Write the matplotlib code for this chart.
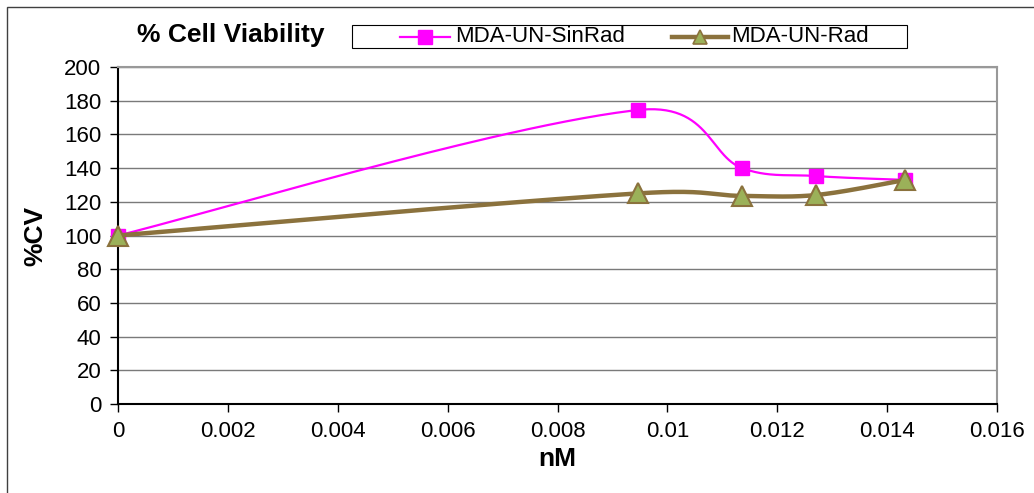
import numpy as np
import matplotlib
matplotlib.use("Agg")
import matplotlib.pyplot as plt
from matplotlib.patches import Rectangle
from matplotlib.lines import Line2D

plt.rcParams['font.family'] = ['Liberation Sans', 'DejaVu Sans']

x_sinrad = [0.0, 0.00947, 0.01136, 0.0127, 0.01433]
y_sinrad = [100, 174.5, 140, 135.3, 133]
x_rad = [0.0, 0.00947, 0.01136, 0.0127, 0.01433]
y_rad = [100, 125, 123.5, 124, 133]
label_sinrad = "MDA-UN-SinRad"
label_rad = "MDA-UN-Rad"
title = "% Cell Viability"
xlabel = "nM"
ylabel = "%CV"
xticks = [0, 0.002, 0.004, 0.006, 0.008, 0.01, 0.012, 0.014, 0.016]
xticklabels = ["0", "0.002", "0.004", "0.006", "0.008", "0.01", "0.012", "0.014", "0.016"]
yticks = list(range(0, 201, 20))

W, H = 1034, 493
AX_L, AX_R, AX_T, AX_B = 118, 997, 67, 404
XMAX, YMAX = 0.016, 200
sxs = (AX_R - AX_L) / XMAX
sys_ = (AX_B - AX_T) / YMAX


def smooth(xs, ys, n=60, blend=0.5):
    # Bezier smoothing in screen space; blend of uniform Catmull-Rom and length-weighted tangents
    P = np.column_stack([np.asarray(xs) * sxs, np.asarray(ys) * sys_]).astype(float)
    m = len(P)
    d = np.linalg.norm(np.diff(P, axis=0), axis=1)
    out = [P[0]]
    for i in range(m - 1):
        p1, p2 = P[i], P[i + 1]
        if i > 0:
            T1 = P[i + 1] - P[i - 1]
            w = blend * d[i] / (d[i - 1] + d[i]) / 3.0 + (1 - blend) / 6.0
            c1 = p1 + T1 * w
        else:
            c1 = p1 + (p2 - p1) / 6.0
        if i + 2 < m:
            T2 = P[i + 2] - P[i]
            w = blend * d[i] / (d[i] + d[i + 1]) / 3.0 + (1 - blend) / 6.0
            c2 = p2 - T2 * w
        else:
            c2 = p2 - (p2 - p1) / 6.0
        t = np.linspace(0, 1, n)[1:, None]
        seg = ((1 - t) ** 3) * p1 + 3 * ((1 - t) ** 2) * t * c1 + 3 * (1 - t) * t ** 2 * c2 + t ** 3 * p2
        out.extend(seg)
    out = np.array(out)
    return out[:, 0] / sxs, out[:, 1] / sys_


fig = plt.figure(figsize=(10.34, 4.93), dpi=100)
ax = fig.add_axes([AX_L / W, 1 - AX_B / H, (AX_R - AX_L) / W, (AX_B - AX_T) / H])

pink = "#FF00FF"
brown = "#8B723D"
green = "#9BB159"

sx, sy = smooth(x_sinrad, y_sinrad)
rx, ry = smooth(x_rad, y_rad)
ax.plot(sx, sy, color=pink, lw=1.6, zorder=3, clip_on=False)
ax.plot(x_sinrad, y_sinrad, ls='none', marker='s', ms=10.5, mfc=pink, mec=pink, zorder=4, clip_on=False)
ax.plot(rx, ry, color=brown, lw=3.2, zorder=5, clip_on=False)
ax.plot(x_rad, y_rad, ls='none', marker='^', ms=14, mfc=green, mec=brown, mew=1.5, zorder=6, clip_on=False)

ax.set_xlim(0, XMAX)
ax.set_ylim(0, YMAX)
ax.set_xticks(xticks)
ax.set_xticklabels(xticklabels)
ax.set_yticks(yticks)
ax.tick_params(labelsize=16, direction='out', length=6, width=1, color='black', pad=6)
ax.yaxis.grid(True, color='#7a7a7a', lw=1)
ax.set_axisbelow(True)
for s in ['top', 'right']:
    ax.spines[s].set_color('#999999')
    ax.spines[s].set_linewidth(1.5)
for s in ['left', 'bottom']:
    ax.spines[s].set_color('black')
    ax.spines[s].set_linewidth(1.5)

ax.set_xlabel(xlabel, fontsize=19, fontweight='bold', labelpad=4)
ax.set_ylabel(ylabel, fontsize=19, fontweight='bold', labelpad=12)

fig.text(137 / W, 1 - 35 / H, title, fontsize=19, fontweight='bold', va='center', ha='left')

# legend box
fig.patches.append(Rectangle((352 / W, 1 - 48 / H), (907 - 352) / W, 23 / H,
                             transform=fig.transFigure, fill=False, ec='black', lw=0.8))
ly = 1 - 37 / H
fig.lines.append(Line2D([400 / W, 450 / W], [ly, ly], transform=fig.transFigure, color=pink, lw=1.6))
fig.lines.append(Line2D([425 / W], [ly], transform=fig.transFigure, marker='s', ms=10, mfc=pink, mec=pink))
fig.text(455 / W, ly, label_sinrad, fontsize=16, va='center', ha='left')
fig.lines.append(Line2D([672 / W, 728 / W], [ly, ly], transform=fig.transFigure, color=brown, lw=3.2))
fig.lines.append(Line2D([700 / W], [ly], transform=fig.transFigure, marker='^', ms=10, mfc=green, mec=brown, mew=1.2))
fig.text(731 / W, ly, label_rad, fontsize=16, va='center', ha='left')

# outer border (top and left visible)
fig.patches.append(Rectangle((7 / W, -0.1), 1.2, 1 - 7 / H + 0.1,
                             transform=fig.transFigure, fill=False, ec='#404040', lw=1))

fig.savefig("out.png", dpi=100)
